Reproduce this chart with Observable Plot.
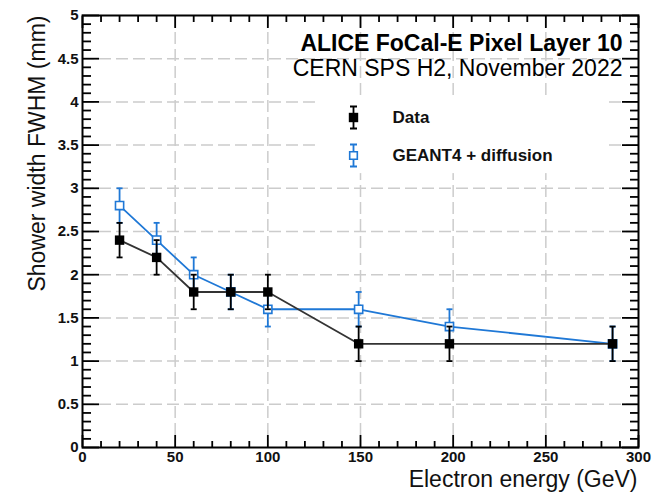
<!DOCTYPE html>
<html>
<head>
<meta charset="utf-8">
<script src="https://cdn.jsdelivr.net/npm/d3@7"></script>
<script src="https://cdn.jsdelivr.net/npm/@observablehq/plot@0.6"></script>
<style>
  html, body { margin: 0; padding: 0; background: #fff; }
  svg { display: block; font-family: "Liberation Sans", Arial, Helvetica, sans-serif; }
</style>
</head>
<body>
<div id="chart"></div>
<script>
// ---- data ----
const energy   = [20, 40, 60, 80, 100, 149, 198, 286];
const dataWidth = [2.4, 2.2, 1.8, 1.8, 1.8, 1.2, 1.2, 1.2];
const dataErr   = [0.2, 0.2, 0.2, 0.2, 0.2, 0.2, 0.2, 0.2];
const simWidth  = [2.8, 2.4, 2.0, 1.8, 1.6, 1.6, 1.4, 1.2];
const simErr    = [0.2, 0.2, 0.2, 0.2, 0.2, 0.2, 0.2, 0.2];

const xMajor = [0, 50, 100, 150, 200, 250, 300];
const xMinor = [10,20,30,40,60,70,80,90,110,120,130,140,160,170,180,190,210,220,230,240,260,270,280,290];
const yMajor = [0, 0.5, 1, 1.5, 2, 2.5, 3, 3.5, 4, 4.5, 5];
const yMinor = d3.range(0, 50).filter(i => i % 5 !== 0).map(i => i / 10);
const xGrid = [50, 100, 150, 200, 250];
const yGrid = [0.5, 1, 1.5, 2, 2.5, 3, 3.5, 4, 4.5];

const titleText = "ALICE FoCal-E Pixel Layer 10";
const subtitleText = "CERN SPS H2, November 2022";
const xLabel = "Electron energy (GeV)";
const yLabel = "Shower width FWHM (mm)";
const seriesNames = ["Data", "GEANT4 + diffusion"];

// ---- tables ----
const dataRows = energy.map((e, i) => ({e, w: dataWidth[i], err: dataErr[i]}));
const simRows  = energy.map((e, i) => ({e, w: simWidth[i], err: simErr[i]}));

const BLUE = "#1f78d6";
const BLACK = "#000";

const cap = { draw(ctx) { ctx.moveTo(-3, 0); ctx.lineTo(3, 0); } };
const legendBar = { draw(ctx) {
  ctx.moveTo(0, -11); ctx.lineTo(0, 11);
  ctx.moveTo(-3.5, -11); ctx.lineTo(3.5, -11);
  ctx.moveTo(-3.5, 11); ctx.lineTo(3.5, 11);
} };

function errorMarks(rows, color) {
  return [
    Plot.ruleX(rows, {x: "e", y1: d => d.w - d.err, y2: d => d.w + d.err, stroke: color, strokeWidth: 1.8}),
    Plot.dot(rows, {x: "e", y: d => d.w + d.err, symbol: cap, stroke: color, strokeWidth: 1.8, fill: "none", r: 3}),
    Plot.dot(rows, {x: "e", y: d => d.w - d.err, symbol: cap, stroke: color, strokeWidth: 1.8, fill: "none", r: 3})
  ];
}

const tickStyle = {stroke: "black", strokeWidth: 1.8, tickFormat: () => "", label: null};
const fmt = d => String(d);

const chart = Plot.plot({
  width: 652,
  height: 492,
  marginLeft: 82,
  marginRight: 14,
  marginTop: 15,
  marginBottom: 45,
  x: {domain: [0, 300]},
  y: {domain: [0, 5]},
  marks: [
    Plot.gridX(xGrid, {stroke: "#cccccc", strokeOpacity: 1, strokeWidth: 1.5, strokeDasharray: "12,5"}),
    Plot.gridY(yGrid, {stroke: "#cccccc", strokeOpacity: 1, strokeWidth: 1.5, strokeDasharray: "12,5"}),
    // legend background box
    Plot.rect([0], {x1: 125.7, x2: 283.9, y1: 3.17, y2: 4.06, fill: "white"}),
    // simulation
    Plot.line(simRows, {x: "e", y: "w", stroke: BLUE, strokeWidth: 1.8}),
    ...errorMarks(simRows, BLUE),
    Plot.dot(simRows, {x: "e", y: "w", symbol: "square", r: 4.6, stroke: BLUE, strokeWidth: 1.6, fill: "white"}),
    // data
    Plot.line(dataRows, {x: "e", y: "w", stroke: "#333", strokeWidth: 1.8}),
    ...errorMarks(dataRows, BLACK),
    Plot.dot(dataRows, {x: "e", y: "w", symbol: "square", r: 5.3, fill: BLACK, stroke: "none"}),
    // frame
    Plot.frame({stroke: "black", strokeWidth: 2}),
    // inner ticks
    Plot.axisX(xMajor, {anchor: "bottom", tickSize: -12, ...tickStyle}),
    Plot.axisX(xMinor, {anchor: "bottom", tickSize: -6, ...tickStyle}),
    Plot.axisX(xMajor, {anchor: "top", tickSize: -12, ...tickStyle}),
    Plot.axisX(xMinor, {anchor: "top", tickSize: -6, ...tickStyle}),
    Plot.axisY(yMajor, {anchor: "left", tickSize: -17, ...tickStyle}),
    Plot.axisY(yMinor, {anchor: "left", tickSize: -9, ...tickStyle}),
    Plot.axisY(yMajor, {anchor: "right", tickSize: -17, ...tickStyle}),
    Plot.axisY(yMinor, {anchor: "right", tickSize: -9, ...tickStyle}),
    // tick labels
    Plot.axisX(xMajor, {anchor: "bottom", tickSize: 0, tickPadding: 4, label: null, tickFormat: fmt, fontSize: 15, fontWeight: "bold", fill: "#111"}),
    Plot.axisY(yMajor, {anchor: "left", tickSize: 0, tickPadding: 4, label: null, tickFormat: fmt, fontSize: 15, fontWeight: "bold", fill: "#111"}),
    // axis titles
    Plot.text([xLabel], {frameAnchor: "bottom-right", text: d => d, textAnchor: "end", lineAnchor: "bottom", dx: -1, dy: 39, fontSize: 23, fill: "#111"}),
    Plot.text([yLabel], {frameAnchor: "top-left", text: d => d, textAnchor: "end", lineAnchor: "bottom", rotate: -90, dx: -38, dy: 0, fontSize: 23, fill: "#111"}),
    // title
    Plot.text([titleText], {frameAnchor: "top-right", text: d => d, textAnchor: "end", lineAnchor: "bottom", dx: -16, dy: 35, fontSize: 23, fontWeight: "bold", fill: "#000"}),
    Plot.text([subtitleText], {frameAnchor: "top-right", text: d => d, textAnchor: "end", lineAnchor: "bottom", dx: -16, dy: 60, fontSize: 23, fill: "#000"}),
    // legend
    Plot.dot([0], {frameAnchor: "top-left", dx: 271, dy: 102, symbol: legendBar, stroke: BLACK, strokeWidth: 1.8, fill: "none"}),
    Plot.dot([0], {frameAnchor: "top-left", dx: 271, dy: 102, symbol: "square", r: 5.3, fill: BLACK, stroke: "none"}),
    Plot.dot([0], {frameAnchor: "top-left", dx: 271, dy: 140, symbol: legendBar, stroke: BLUE, strokeWidth: 1.8, fill: "none"}),
    Plot.dot([0], {frameAnchor: "top-left", dx: 271, dy: 140, symbol: "square", r: 4.3, fill: "white", stroke: BLUE, strokeWidth: 1.6}),
    Plot.text([seriesNames[0]], {frameAnchor: "top-left", text: d => d, textAnchor: "start", lineAnchor: "middle", dx: 310, dy: 102, fontSize: 17, fontWeight: "bold", fill: "#111"}),
    Plot.text([seriesNames[1]], {frameAnchor: "top-left", text: d => d, textAnchor: "start", lineAnchor: "middle", dx: 310, dy: 140, fontSize: 17, fontWeight: "bold", fill: "#111"})
  ]
});
document.getElementById("chart").appendChild(chart);
</script>
</body>
</html>
